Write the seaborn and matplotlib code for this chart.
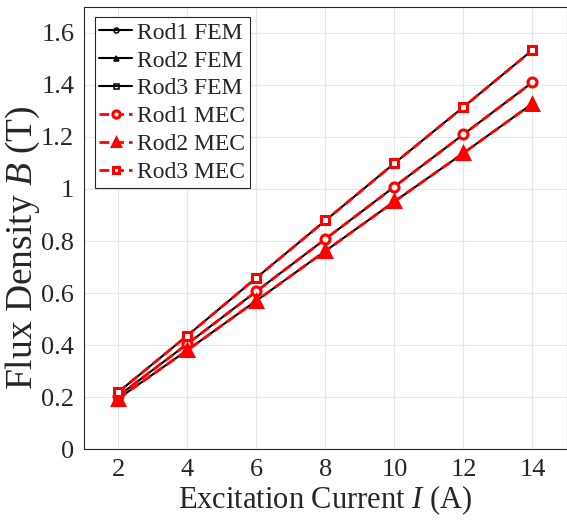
import matplotlib
matplotlib.use("Agg")
import matplotlib.pyplot as plt
import seaborn as sns
import numpy as np

# data
current = [2, 4, 6, 8, 10, 12, 14]
rod1_fem = [0.205, 0.405, 0.607, 0.808, 1.009, 1.210, 1.410]
rod2_fem = [0.195, 0.381, 0.571, 0.762, 0.952, 1.138, 1.328]
rod3_fem = [0.220, 0.437, 0.659, 0.879, 1.099, 1.315, 1.534]
rod1_mec = [0.205, 0.405, 0.607, 0.808, 1.009, 1.210, 1.410]
rod2_mec = [0.195, 0.381, 0.571, 0.762, 0.952, 1.138, 1.328]
rod3_mec = [0.220, 0.437, 0.659, 0.879, 1.099, 1.315, 1.534]

sns.set_style("whitegrid")
plt.rcParams['font.family'] = ['Liberation Serif', 'DejaVu Serif']
plt.rcParams['mathtext.fontset'] = 'custom'
plt.rcParams['mathtext.rm'] = 'Liberation Serif'
plt.rcParams['mathtext.it'] = 'Liberation Serif:italic'

fig = plt.figure(figsize=(5.67, 5.23), dpi=100)
ax = fig.add_axes([0.148, 0.141, 0.852, 0.846])

# FEM: black solid
fem = [(rod1_fem, 'o', 'Rod1 FEM', 'none'),
       (rod2_fem, '^', 'Rod2 FEM', 'k'),
       (rod3_fem, 's', 'Rod3 FEM', 'none')]
for vals, m, lab, fc in fem:
    sns.lineplot(x=current, y=vals, ax=ax, color='k', linewidth=1.5,
                 marker=m, markersize=4.5, markerfacecolor=fc,
                 markeredgecolor='k', markeredgewidth=1.1, label=lab)

# MEC: red dashed
mec = [(rod1_mec, 'o', 'Rod1 MEC', 'white', 6.5),
       (rod2_mec, '^', 'Rod2 MEC', 'red', 8),
       (rod3_mec, 's', 'Rod3 MEC', 'white', 6)]
for vals, m, lab, fc, ms in mec:
    sns.lineplot(x=current, y=vals, ax=ax, color='red', linewidth=2,
                 linestyle=(0, (3.5, 1.8)), marker=m, markersize=ms,
                 markerfacecolor=fc, markeredgecolor='red',
                 markeredgewidth=2.2, label=lab)

ax.set_xlim(1, 15)
ax.set_ylim(0, 1.7)
ax.set_xticks(np.arange(2, 15, 2))
ax.set_yticks(np.arange(0, 1.61, 0.2))
ax.set_yticklabels(['0', '0.2', '0.4', '0.6', '0.8', '1', '1.2', '1.4', '1.6'])
ax.tick_params(direction='in', length=4, width=0.8, labelsize=19,
               colors='#262626', pad=7)
ax.grid(True, color='#e6e6e6', linewidth=0.8)
for s in ax.spines.values():
    s.set_color('#262626')
    s.set_linewidth(0.8)

ax.set_xlabel('Excitation Current $I$ (A)', fontsize=22, color='#262626',
              labelpad=2)
ax.set_ylabel('Flux Density $B$ (T)', fontsize=27, color='#262626')
ax.yaxis.set_label_coords(-0.087, 0.455)

leg = ax.legend(loc='upper left', fontsize=17, frameon=True, fancybox=False,
                edgecolor='#262626', framealpha=1, handlelength=1.4,
                handletextpad=0.2, borderpad=0.2, labelspacing=0.27,
                borderaxespad=0.45, markerscale=0.8)
leg.get_frame().set_linewidth(0.8)

fig.savefig('out.png', dpi=100)
